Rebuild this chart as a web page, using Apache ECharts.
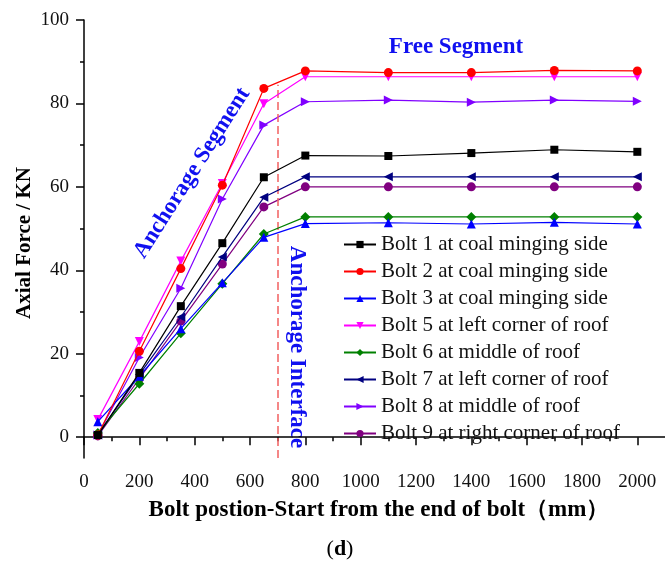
<!DOCTYPE html>
<html>
<head>
<meta charset="utf-8">
<script src="https://cdn.jsdelivr.net/npm/echarts@6/dist/echarts.min.js"></script>
<style>html,body{margin:0;padding:0;background:#fff}#c{width:665px;height:563px}</style>
</head>
<body>
<div id="c"></div>
<script>
const positions = [50, 200, 350, 500, 650, 800, 1100, 1400, 1700, 2000];
const bolt1 = [0.5, 15.4, 31.4, 46.5, 62.3, 67.5, 67.4, 68.1, 68.9, 68.4];
const bolt2 = [0.5, 20.6, 40.4, 60.4, 83.6, 87.8, 87.4, 87.4, 87.9, 87.8];
const bolt3 = [3.7, 14.6, 26.0, 37.0, 47.9, 51.2, 51.4, 51.1, 51.5, 51.1];
const bolt5 = [4.2, 22.9, 42.2, 60.8, 79.9, 86.4, 86.4, 86.4, 86.4, 86.4];
const bolt6 = [1.0, 12.8, 24.9, 36.8, 48.7, 52.8, 52.8, 52.8, 52.8, 52.8];
const bolt7 = [0.5, 15.0, 28.8, 43.2, 57.5, 62.4, 62.4, 62.4, 62.4, 62.4];
const bolt8 = [0.5, 19.1, 35.7, 57.1, 74.8, 80.4, 80.8, 80.3, 80.8, 80.5];
const bolt9 = [0.3, 14.0, 27.8, 41.5, 55.2, 60.0, 60.0, 60.0, 60.0, 60.0];
const xMajorTicks = [0, 200, 400, 600, 800, 1000, 1200, 1400, 1600, 1800, 2000];
const xMinorTicks = [100, 300, 500, 700, 900, 1100, 1300, 1500, 1700, 1900];
const yMajorTicks = [0, 20, 40, 60, 80, 100];
const yMinorTicks = [10, 30, 50, 70, 90];
const interfaceX = 700;
const interfaceTop = 84.5;

const seriesDefs = [
  {name: 'Bolt 1 at coal minging side', data: bolt1, color: '#000000', symbol: 'rect', size: 8, rot: 0},
  {name: 'Bolt 2 at coal minging side', data: bolt2, color: '#FF0000', symbol: 'circle', size: 9, rot: 0},
  {name: 'Bolt 3 at coal minging side', data: bolt3, color: '#0000FF', symbol: 'triangle', size: 9, rot: 0},
  {name: 'Bolt 5 at left corner of roof', data: bolt5, color: '#FF00FF', symbol: 'triangle', size: 9, rot: 180},
  {name: 'Bolt 6 at middle of roof', data: bolt6, color: '#008000', symbol: 'diamond', size: 10, rot: 0},
  {name: 'Bolt 7 at left corner of roof', data: bolt7, color: '#000080', symbol: 'triangle', size: 9, rot: 90},
  {name: 'Bolt 8 at middle of roof', data: bolt8, color: '#8000FF', symbol: 'triangle', size: 9, rot: -90},
  {name: 'Bolt 9 at right corner of roof', data: bolt9, color: '#800080', symbol: 'circle', size: 9, rot: 0}
];

const serif = '"Liberation Serif", "Times New Roman", serif';
const series = seriesDefs.map((d, i) => {
  const s = {
    name: d.name, type: 'line', xAxisIndex: 0, yAxisIndex: 0,
    data: positions.map((x, k) => [x, d.data[k]]),
    symbol: d.symbol, symbolSize: d.size, symbolRotate: d.rot,
    lineStyle: {color: d.color, width: 1.2},
    itemStyle: {color: d.color},
    emphasis: {disabled: true},
    animation: false,
    z: 10 - i
  };
  if (i === 0) {
    s.markLine = {
      silent: true, symbol: 'none', animation: false,
      label: {show: false},
      lineStyle: {color: '#F26060', type: [8, 4], width: 1.5},
      data: [[{coord: [interfaceX, -5]}, {coord: [interfaceX, interfaceTop]}]]
    };
  }
  return s;
});

const plain = v => String(v);
const chart = echarts.init(document.getElementById('c'), null, {renderer: 'canvas'});
chart.setOption({
  backgroundColor: '#ffffff',
  animation: false,
  grid: {left: 84, right: -4, top: 20, bottom: 105, containLabel: false},
  xAxis: [{
    type: 'value', min: 0, max: 2100,
    axisLine: {lineStyle: {color: '#000', width: 1.5}},
    axisTick: {customValues: xMajorTicks, length: 8, inside: false, lineStyle: {color: '#000', width: 1.5}},
    axisLabel: {customValues: xMajorTicks, formatter: plain, margin: 15, color: '#111', fontFamily: serif, fontSize: 19},
    splitLine: {show: false}
  }, {
    type: 'value', min: 0, max: 2100, position: 'bottom',
    axisLine: {show: false},
    axisTick: {customValues: xMinorTicks, length: 4, inside: false, lineStyle: {color: '#000', width: 1.5}},
    axisLabel: {show: false},
    splitLine: {show: false}
  }],
  yAxis: [{
    type: 'value', min: -5, max: 100,
    axisLine: {show: true, lineStyle: {color: '#000', width: 1.5}},
    axisTick: {show: true, customValues: yMajorTicks, length: 8, inside: false, lineStyle: {color: '#000', width: 1.5}},
    axisLabel: {customValues: yMajorTicks, formatter: plain, margin: 15, color: '#111', fontFamily: serif, fontSize: 19},
    splitLine: {show: false}
  }, {
    type: 'value', min: -5, max: 100, position: 'left', offset: 0,
    axisLine: {show: false},
    axisTick: {show: true, customValues: yMinorTicks, length: 4, inside: false, lineStyle: {color: '#000', width: 1.5}},
    axisLabel: {show: false},
    splitLine: {show: false}
  }],
  legend: {
    orient: 'vertical', left: 343, top: 234, padding: 0,
    itemWidth: 32, itemHeight: 9, itemGap: 6,
    textStyle: {fontFamily: serif, fontSize: 21, color: '#111', lineHeight: 21},
    data: seriesDefs.map(d => d.name)
  },
  series: series,
  graphic: [
    {type: 'text', x: 25, y: 243, rotation: Math.PI / 2,
     style: {text: 'Axial Force / KN', fill: '#000', font: 'bold 21px ' + serif, align: 'center', verticalAlign: 'middle'}},
    {type: 'text', x: 379, y: 510,
     style: {text: 'Bolt postion-Start from the end of bolt（mm）', fill: '#000', font: 'bold 23px ' + serif, align: 'center', verticalAlign: 'middle'}},
    {type: 'text', x: 340, y: 549,
     style: {text: '({b|d})', fill: '#000', font: '22px ' + serif, align: 'center', verticalAlign: 'middle',
       rich: {b: {fontWeight: 'bold', fontSize: 22, fontFamily: serif}}}},
    {type: 'text', x: 456, y: 47,
     style: {text: 'Free Segment', fill: '#1010F0', font: 'bold 23px ' + serif, align: 'center', verticalAlign: 'middle'}},
    {type: 'text', x: 192, y: 173, rotation: 57.5 * Math.PI / 180,
     style: {text: 'Anchorage Segment', fill: '#1010F0', font: 'bold 23px ' + serif, align: 'center', verticalAlign: 'middle'}},
    {type: 'text', x: 297, y: 347, rotation: -Math.PI / 2,
     style: {text: 'Anchorage Interface', fill: '#1010F0', font: 'bold 23px ' + serif, align: 'center', verticalAlign: 'middle'}}
  ]
});
</script>
</body>
</html>
